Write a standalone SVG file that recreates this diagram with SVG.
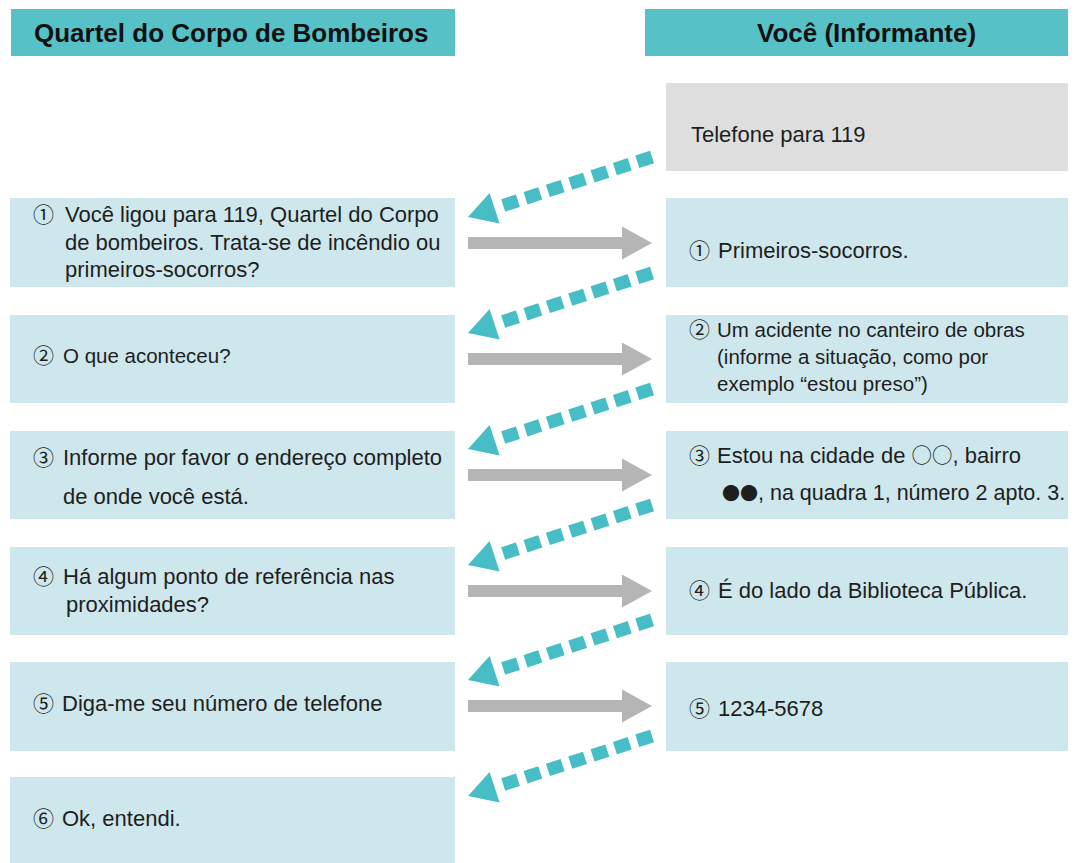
<svg xmlns="http://www.w3.org/2000/svg" width="1076" height="863" viewBox="0 0 1076 863">
<defs>
<style>
.hdr{fill:#56C2C8}
.box{fill:#CDE7EC}
.gbox{fill:#DEDEDE}
.t{font-family:"Liberation Sans","Noto Sans CJK JP",sans-serif;font-size:22px;fill:#1E1E1E}
.s{font-size:20.5px}
.h{font-family:"Liberation Sans",sans-serif;font-size:26px;font-weight:bold;fill:#111111}
.n{font-family:"Noto Sans CJK JP","Liberation Sans",sans-serif;font-size:21px}
.tl{fill:#47BDC5}
.gr{fill:#B5B5B5}
</style>
<g id="dashArrow">
<path d="M0,0 L-148.8,48.5" fill="none" stroke="#47BDC5" stroke-width="13" stroke-dasharray="15.5 8"/>
<polygon class="tl" points="-184,60 -152.4,66.5 -162.4,36.1"/>
</g>
<g id="grayArrow">
<rect class="gr" x="468" y="-6" width="155" height="12"/>
<polygon class="gr" points="622,-16.5 652,0 622,16.5"/>
</g>
</defs>
<rect width="1076" height="863" fill="#FFFFFF"/>

<g id="header-left">
<rect class="hdr" x="11" y="9" width="444" height="47"/>
<text class="h" x="34" y="42">Quartel do Corpo de Bombeiros</text>
</g>
<g id="header-right">
<rect class="hdr" x="645" y="9" width="423" height="47"/>
<text class="h" x="757" y="42">Você (Informante)</text>
</g>

<g id="you-0">
<rect class="gbox" x="666" y="83" width="402" height="88"/>
<text class="t" x="691" y="142">Telefone para 119</text>
</g>

<g id="fire-1">
<rect class="box" x="10" y="198" width="445" height="89"/>
<text class="t" y="222"><tspan class="n" x="33">①</tspan> <tspan x="65">Você ligou para 119, Quartel do Corpo</tspan></text>
<text class="t" x="65" y="250">de bombeiros. Trata-se de incêndio ou</text>
<text class="t" x="65" y="277">primeiros-socorros?</text>
</g>
<g id="you-1">
<rect class="box" x="666" y="198" width="402" height="89"/>
<text class="t" y="258"><tspan class="n" x="689">①</tspan> <tspan x="718">Primeiros-socorros.</tspan></text>
</g>

<g id="fire-2">
<rect class="box" x="10" y="315" width="445" height="88"/>
<text class="t s" y="363"><tspan class="n" x="33">②</tspan> <tspan x="63">O que aconteceu?</tspan></text>
</g>
<g id="you-2">
<rect class="box" x="666" y="315" width="402" height="88"/>
<text class="t s" y="337"><tspan class="n" x="689">②</tspan> <tspan x="717">Um acidente no canteiro de obras</tspan></text>
<text class="t s" x="717" y="364">(informe a situação, como por</text>
<text class="t s" x="717" y="391">exemplo “estou preso”)</text>
</g>

<g id="fire-3">
<rect class="box" x="10" y="431" width="445" height="88"/>
<text class="t" y="465"><tspan class="n" x="33">③</tspan> <tspan x="63">Informe por favor o endereço completo</tspan></text>
<text class="t" x="63" y="504">de onde você está.</text>
</g>
<g id="you-3">
<rect class="box" x="666" y="431" width="402" height="88"/>
<text class="t" y="463"><tspan class="n" x="689">③</tspan> <tspan x="717">Estou na cidade de </tspan><tspan class="n" style="font-size:20.5px">○○</tspan><tspan>, bairro</tspan></text>
<text class="t" y="500" style="font-size:21.5px"><tspan class="n" x="722" style="font-size:18px">●●</tspan><tspan>, na quadra 1, número 2 apto. 3.</tspan></text>
</g>

<g id="fire-4">
<rect class="box" x="10" y="547" width="445" height="88"/>
<text class="t" y="584"><tspan class="n" x="33">④</tspan> <tspan x="63">Há algum ponto de referência nas</tspan></text>
<text class="t" x="66" y="612">proximidades?</text>
</g>
<g id="you-4">
<rect class="box" x="666" y="547" width="402" height="88"/>
<text class="t" y="598"><tspan class="n" x="689">④</tspan> <tspan x="718">É do lado da Biblioteca Pública.</tspan></text>
</g>

<g id="fire-5">
<rect class="box" x="10" y="662" width="445" height="89"/>
<text class="t" y="711"><tspan class="n" x="33">⑤</tspan> <tspan x="62">Diga-me seu número de telefone</tspan></text>
</g>
<g id="you-5">
<rect class="box" x="666" y="662" width="402" height="89"/>
<text class="t" y="716"><tspan class="n" x="689">⑤</tspan> <tspan x="718">1234-5678</tspan></text>
</g>

<g id="fire-6">
<rect class="box" x="10" y="777" width="445" height="86"/>
<text class="t" y="826"><tspan class="n" x="33">⑥</tspan> <tspan x="62">Ok, entendi.</tspan></text>
</g>

<g id="connectors">
<use href="#dashArrow" x="652" y="157"/>
<use href="#dashArrow" x="652" y="273"/>
<use href="#dashArrow" x="652" y="389"/>
<use href="#dashArrow" x="652" y="505"/>
<use href="#dashArrow" x="652" y="620"/>
<use href="#dashArrow" x="652" y="736"/>
<use href="#grayArrow" y="243"/>
<use href="#grayArrow" y="359"/>
<use href="#grayArrow" y="475"/>
<use href="#grayArrow" y="591"/>
<use href="#grayArrow" y="706"/>
</g>
</svg>
